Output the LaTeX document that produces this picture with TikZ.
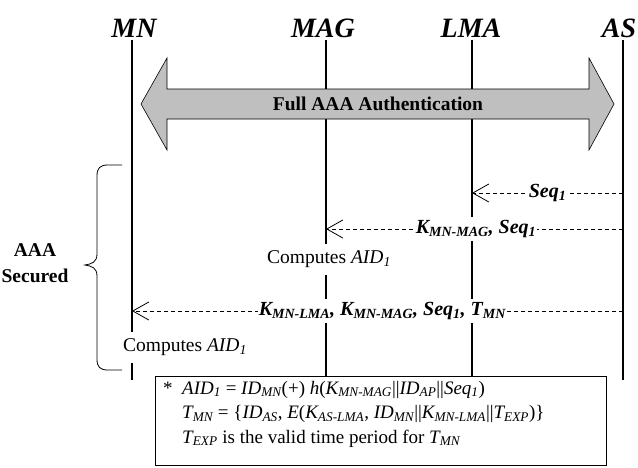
\documentclass[tikz,border=0pt]{standalone}
\usepackage{fontspec}
\setmainfont{Liberation Serif}
\usetikzlibrary{arrows.meta}
\newcommand\sbs[1]{\textsubscript{#1}}
\tikzset{
  head/.style={font=\fontsize{28}{32}\selectfont\bfseries\itshape, anchor=base, inner sep=0pt},
  life/.style={line width=2pt},
  msg/.style={line width=0.9pt, dash pattern=on 4pt off 3pt,
    -{Straight Barb[length=16pt,width=18pt,line width=0.8pt]}},
  msglabel/.style={font=\fontsize{20}{24}\selectfont\bfseries\itshape, fill=white, inner xsep=1pt, inner ysep=3pt},
  comp/.style={font=\fontsize{19.5}{23}\selectfont, fill=white, inner xsep=1pt, inner ysep=7pt},
  bigarrow/.style={fill=black!25, draw=black, line width=0.6pt},
  note/.style={font=\fontsize{19}{23}\selectfont, anchor=base west, inner sep=0pt},
  bracestyle/.style={line width=0.8pt},
}
\begin{document}
\begin{tikzpicture}[x=1pt,y=-1pt]
\useasboundingbox (0,0) rectangle (638,467);
% heads
\node[head] (MN) at (134,37) {MN};
\node[head] (MAG) at (323,37) {MAG};
\node[head] (LMA) at (471,37) {LMA};
\node[head] (AS) at (619,37) {AS};
% lifeline end points
\coordinate (MNt) at (132,40);  \coordinate (MNb) at (132,380);
\coordinate (MAGt) at (326,40); \coordinate (MAGb) at (326,376);
\coordinate (LMAt) at (472,40); \coordinate (LMAb) at (472,376);
\coordinate (ASt) at (623,40);  \coordinate (ASb) at (623,380);
\draw[life] (MNt) -- (MNb);
\draw[life] (MAGt) -- (MAGb);
\draw[life] (LMAt) -- (LMAb);
\draw[life] (ASt) -- (ASb);
% big double arrow
\draw[bigarrow] (141,104) -- (167,58) -- (167,89) -- (589,89) -- (589,58) -- (614,104)
  -- (589,150) -- (589,119) -- (167,119) -- (167,150) -- cycle;
\node[font=\fontsize{19.5}{23}\selectfont\bfseries] (full) at (378,104) {Full AAA Authentication};
% messages
\coordinate (m1s) at (623,193); \coordinate (m1e) at (472,193);
\coordinate (m2s) at (623,229); \coordinate (m2e) at (326,229);
\coordinate (m3s) at (623,311); \coordinate (m3e) at (132,311);
\draw[msg] (m1s) -- node[msglabel, pos=0.5] (l1) {Seq\sbs{1}} (m1e);
\draw[msg] (m2s) -- node[msglabel, pos=0.495] (l2) {K\sbs{MN-MAG}, Seq\sbs{1}} (m2e);
\draw[msg] (m3s) -- node[msglabel, pos=0.49] (l3) {K\sbs{MN-LMA}, K\sbs{MN-MAG}, Seq\sbs{1}, T\sbs{MN}} (m3e);
% computes
\node[comp] (c1) at (329,259.5) {Computes \textit{AID\sbs{1}}};
\node[comp] (c2) at (185,347.5) {Computes \textit{AID\sbs{1}}};
% brace
\draw[bracestyle] (122,165) -- (108,165) .. controls (100,165) and (97,168) .. (97,176)
  -- (97,254) .. controls (97,262) and (92,264) .. (85,265)
  .. controls (92,266) and (97,268) .. (97,276)
  -- (97,359) .. controls (97,367) and (100,370) .. (108,370) -- (122,370);
\node[font=\fontsize{19.5}{26}\selectfont\bfseries, align=center] (sec) at (35,263) {AAA\\Secured};
% note box
\draw[line width=0.9pt, fill=white] (155,376) rectangle (606,465);
\node[note] (star) at (163,394) {*};
\node[note] (n1) at (182,394) {\textit{AID\sbs{1}} = \textit{ID\sbs{MN}}(+) \textit{h}(\textit{K\sbs{MN-MAG}}||\textit{ID\sbs{AP}}||\textit{Seq\sbs{1}})};
\node[note] (n2) at (182,418.5) {\textit{T\sbs{MN}} = \{\textit{ID\sbs{AS}}, \textit{E}(\textit{K\sbs{AS-LMA}}, \textit{ID\sbs{MN}}||\textit{K\sbs{MN-LMA}}||\textit{T\sbs{EXP}})\}};
\node[note] (n3) at (182,443) {\textit{T\sbs{EXP}} is the valid time period for \textit{T\sbs{MN}}};
\end{tikzpicture}
\end{document}
